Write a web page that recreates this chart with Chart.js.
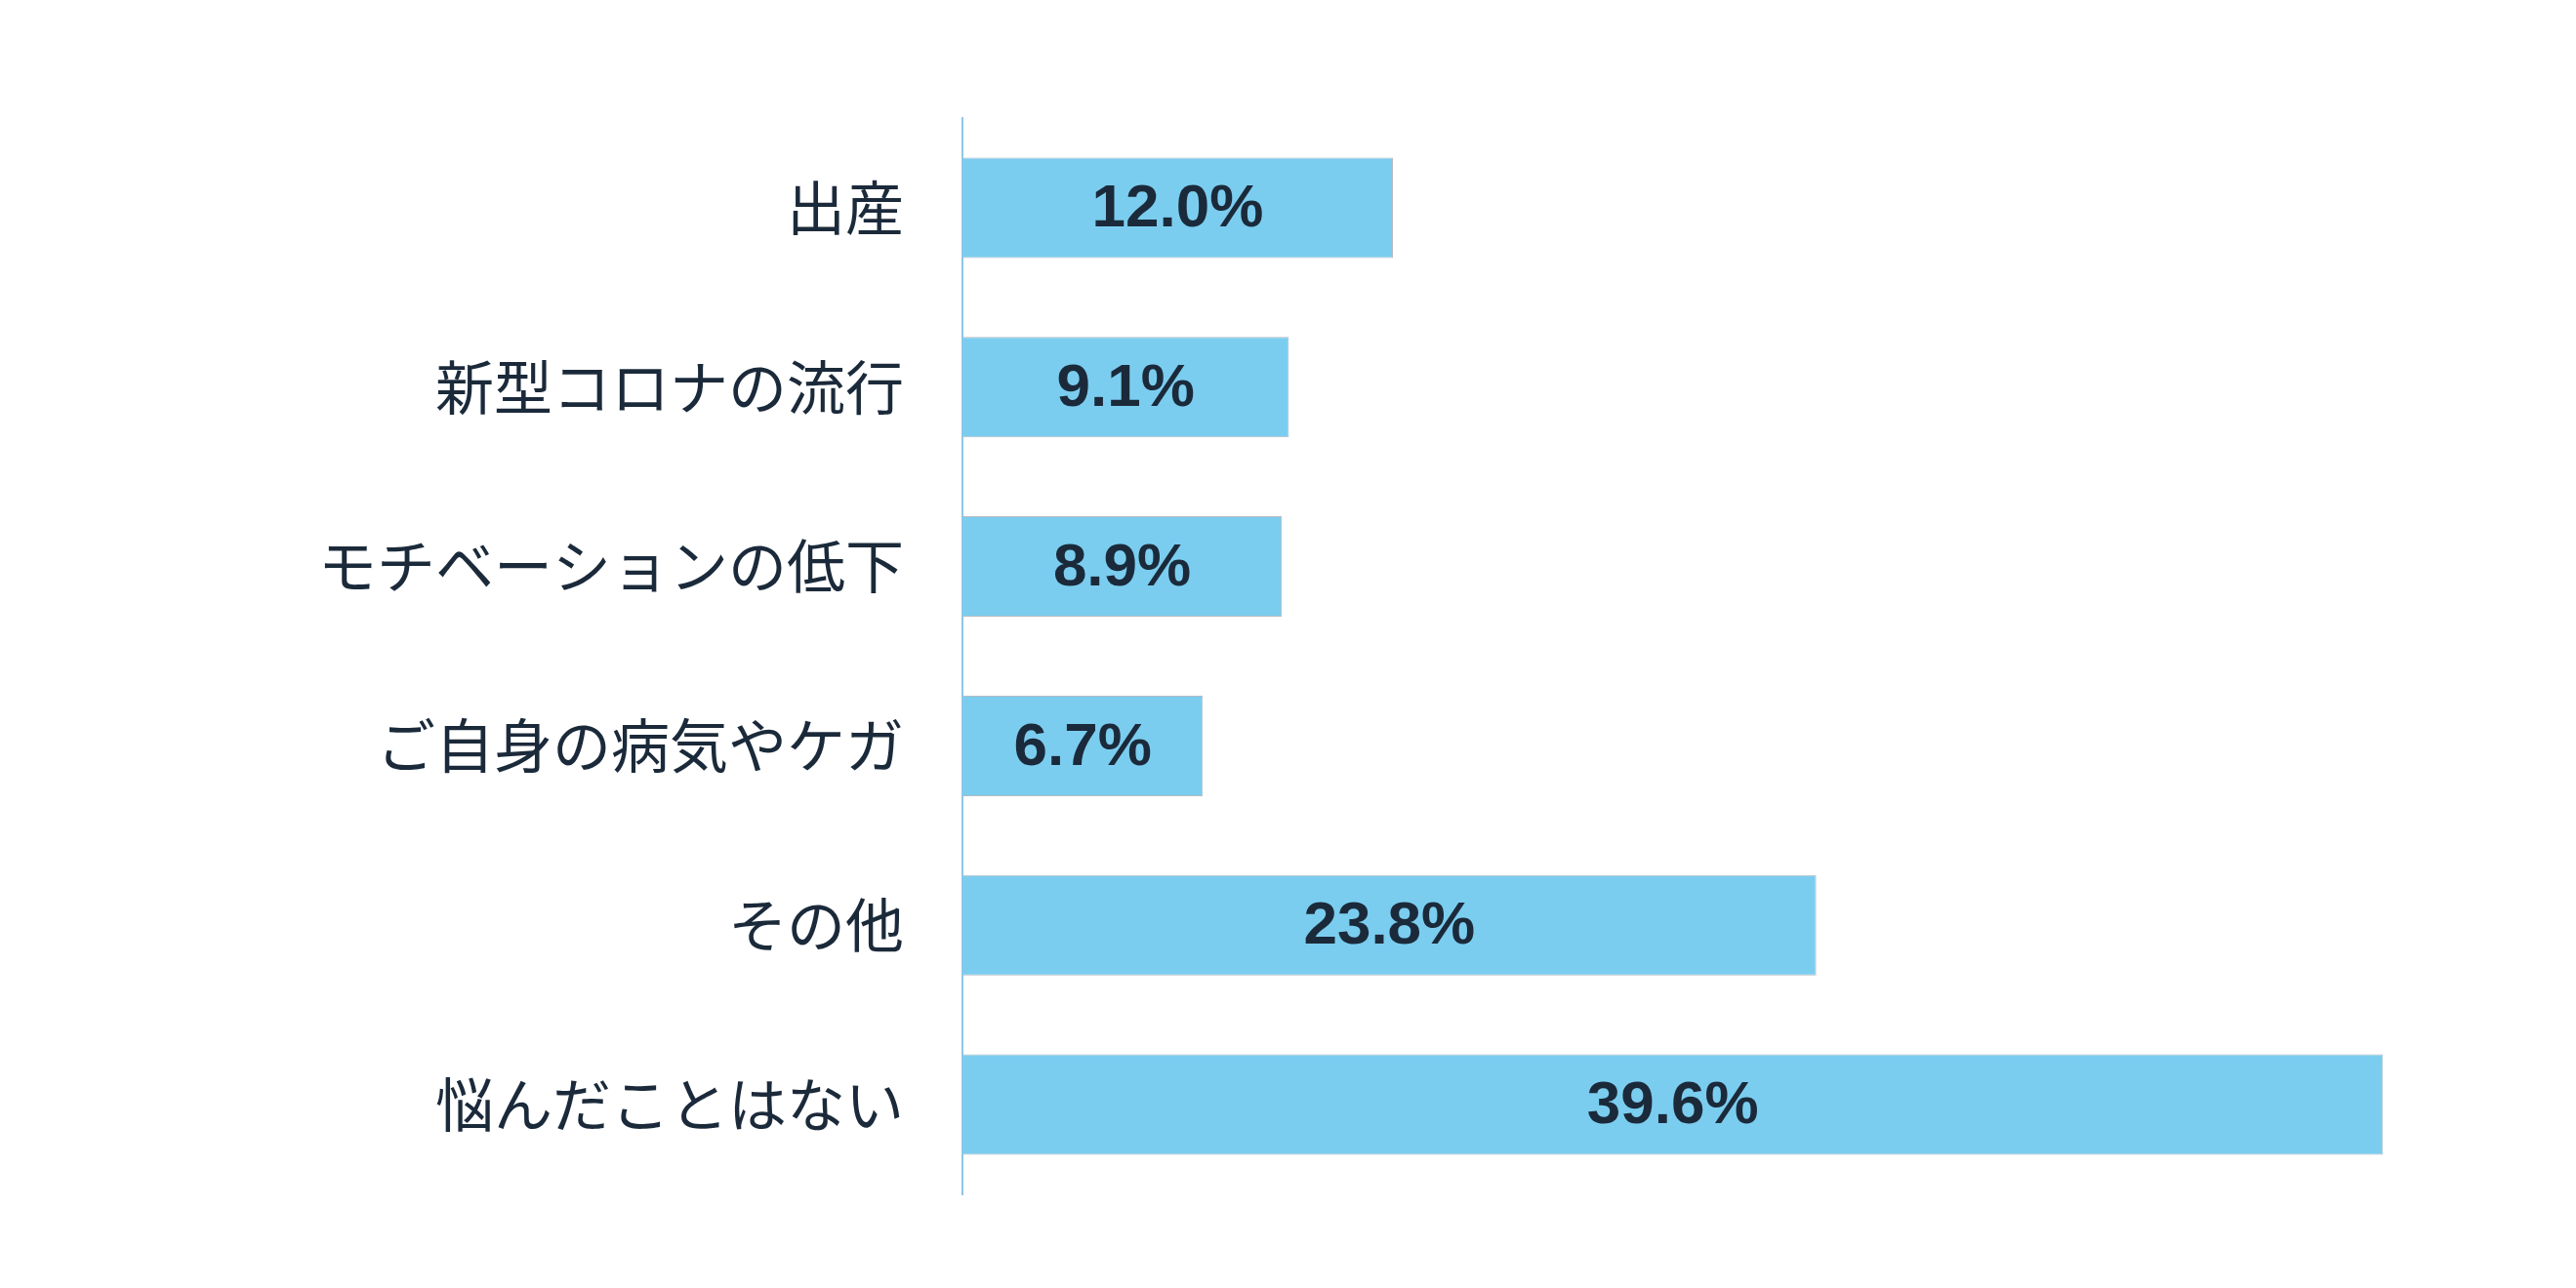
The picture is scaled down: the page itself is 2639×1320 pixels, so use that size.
<!DOCTYPE html>
<html>
<head>
<meta charset="utf-8">
<script src="https://cdn.jsdelivr.net/npm/chart.js@4/dist/chart.umd.min.js"></script>
<style>
  html, body { margin: 0; padding: 0; background: #fff; overflow: hidden; }
  canvas { display: block; }
</style>
</head>
<body>
<canvas id="chart" width="2639" height="1320"></canvas>
<script>
const categories = ['出産', '新型コロナの流行', 'モチベーションの低下', 'ご自身の病気やケガ', 'その他', '悩んだことはない'];
const values = [12.0, 9.1, 8.9, 6.7, 23.8, 39.6];

// draws the percentage in the middle of each bar
const barLabels = {
    id: 'barLabels',
    afterDatasetsDraw(chart) {
        const ctx = chart.ctx;
        const meta = chart.getDatasetMeta(0);
        ctx.save();
        ctx.font = 'bold 62px "Liberation Sans", Arial, sans-serif';
        ctx.fillStyle = '#1b2a3a';
        ctx.textAlign = 'center';
        ctx.textBaseline = 'middle';
        meta.data.forEach((bar, i) => {
            const x = (bar.base + bar.x) / 2;
            ctx.fillText(values[i].toFixed(1) + '%', x, bar.y + 2);
        });
        ctx.restore();
    }
};

new Chart(document.getElementById('chart'), {
    type: 'bar',
    data: {
        labels: categories,
        datasets: [{
            data: values,
            backgroundColor: '#7bcdef',
            borderColor: '#b5bcc2',
            borderWidth: 1,
            categoryPercentage: 1,
            barPercentage: 0.56
        }]
    },
    options: {
        indexAxis: 'y',
        responsive: false,
        devicePixelRatio: 1,
        animation: false,
        layout: { padding: { top: 121, bottom: 31, right: 183, left: 0 } },
        plugins: { legend: { display: false }, tooltip: { enabled: false } },
        scales: {
            x: { min: 0, max: 40, display: false },
            y: {
                afterFit(scale) { scale.width = 986; },
                grid: { display: false, drawTicks: false },
                border: { color: '#8fc6e6', width: 2 },
                ticks: {
                    color: '#1b2a3a',
                    padding: 60,
                    font: { size: 60, family: '"Noto Sans CJK JP", sans-serif' }
                }
            }
        }
    },
    plugins: [barLabels]
});
</script>
</body>
</html>
